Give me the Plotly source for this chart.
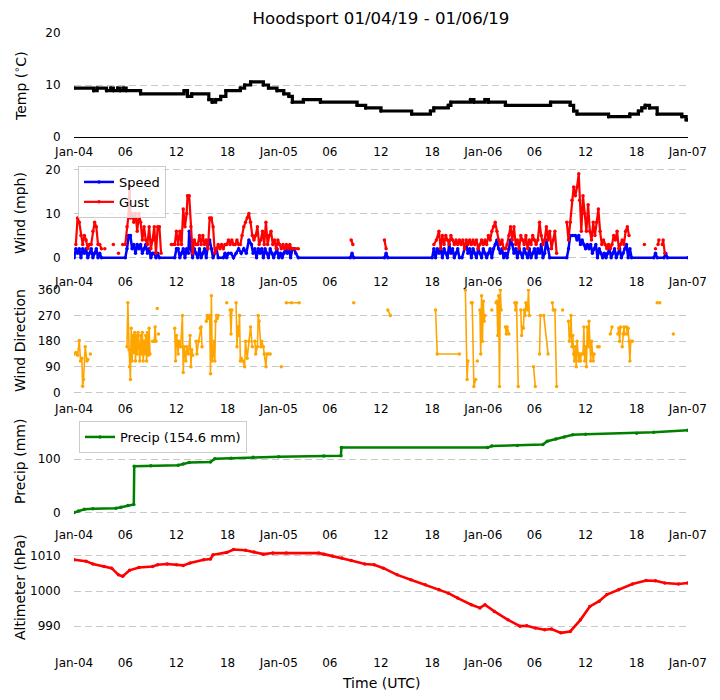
import pandas as pd
import plotly.graph_objects as go

START = pd.Timestamp("2019-01-04 00:00")

# x tick labels every 6 hours
tick_labels = ["Jan-04", "06", "12", "18", "Jan-05", "06", "12", "18",
               "Jan-06", "06", "12", "18", "Jan-07"]

# temperature (step series, hours after start -> deg C)
temp_hours = [0.0, 2.3, 2.7, 3.8, 4.3, 4.6, 5.1, 5.4, 5.8, 6.1, 7.8, 12.9, 13.3, 13.8,
              15.8, 16.2, 16.6, 17.2, 17.8, 19.5, 20.0, 20.7, 22.2, 22.8, 23.8, 24.6,
              25.2, 25.6, 26.9, 28.9, 33.2, 34.2, 36.0, 39.6, 41.8, 42.2, 43.9, 44.2,
              46.5, 46.9, 48.2, 48.6, 50.6, 55.9, 58.2, 58.6, 59.0, 62.7, 65.2, 66.2,
              66.6, 67.0, 67.5, 68.4, 71.3, 71.8, 72.0]
temp_c = [9.4, 8.9, 9.4, 8.9, 9.4, 8.9, 9.4, 8.9, 9.4, 8.9, 8.3, 8.9, 7.8, 8.3,
          7.2, 6.7, 7.2, 7.8, 8.9, 9.4, 10.0, 10.6, 10.0, 9.4, 8.9, 8.3,
          7.8, 6.7, 7.2, 6.7, 6.1, 5.6, 5.0, 4.4, 5.0, 5.6, 6.1, 6.7,
          7.2, 6.7, 7.2, 6.7, 6.1, 6.7, 6.1, 5.0, 4.4, 3.9, 4.4, 5.0,
          5.6, 6.1, 5.6, 4.4, 3.9, 3.3, 3.3]

# wind speed (hour, mph)
speed_pts = [
    (0.0, 0), (0.2, 2), (0.4, 1), (0.6, 2), (0.8, 0), (1.0, 2), (1.2, 1), (1.4, 2), (1.6, 0),
    (1.8, 1), (2.0, 2), (2.2, 0), (2.4, 1), (2.6, 2), (2.8, 0), (3.0, 1), (3.2, 0),
    (6.0, 0), (6.2, 2), (6.4, 5), (6.6, 5), (6.8, 2), (7.0, 3), (7.2, 1), (7.4, 3), (7.6, 2),
    (7.8, 3), (8.0, 1), (8.2, 2), (8.4, 3), (8.6, 1), (8.8, 2), (9.0, 0), (9.2, 1), (9.4, 1),
    (9.6, 0), (9.8, 1), (10.0, 0),
    (11.8, 0), (12.0, 2), (12.2, 2), (12.4, 0), (12.6, 1), (12.8, 2), (13.0, 0), (13.2, 2),
    (13.4, 1), (13.5, 6), (13.7, 2), (13.9, 0), (14.1, 2), (14.3, 1), (14.5, 0), (14.7, 2),
    (14.9, 0), (15.1, 1), (15.3, 2), (15.5, 0), (15.7, 3), (15.9, 4), (16.1, 2), (16.3, 0),
    (16.5, 1), (16.7, 2), (16.9, 0),
    (17.5, 0), (17.7, 1), (17.9, 0), (18.1, 1), (18.4, 1), (18.7, 0), (19.0, 1), (19.3, 2),
    (19.6, 1), (19.9, 2), (20.2, 1), (20.5, 4), (20.8, 3), (21.0, 1), (21.2, 2), (21.4, 0),
    (21.6, 2), (21.8, 1), (22.0, 2), (22.2, 0), (22.4, 2), (22.6, 1), (22.8, 0), (23.0, 2),
    (23.2, 1), (23.4, 0), (23.6, 1), (23.8, 2), (24.0, 0), (24.2, 1), (24.4, 0), (24.6, 1),
    (24.8, 2), (25.0, 1), (25.2, 2), (25.4, 0), (25.6, 2), (25.8, 2), (26.0, 1), (26.3, 0),
    (32.4, 0), (32.6, 1), (32.8, 0), (36.4, 0), (36.6, 1), (36.8, 0),
    (42.0, 0), (42.2, 2), (42.4, 0), (42.6, 2), (42.8, 1), (43.0, 2), (43.2, 0), (43.4, 2),
    (43.6, 1), (43.8, 0), (44.0, 3), (44.2, 1), (44.4, 2), (44.6, 0), (44.8, 1), (45.0, 2),
    (45.2, 0), (45.5, 0), (45.8, 2), (46.0, 3), (46.2, 1), (46.4, 2), (46.6, 0), (46.8, 2),
    (47.0, 1), (47.2, 0), (47.4, 2), (47.6, 1), (47.8, 0), (48.0, 2), (48.2, 1), (48.4, 0),
    (48.6, 1), (48.8, 2), (49.0, 0), (49.2, 2), (49.4, 3), (49.6, 4), (49.8, 2), (50.0, 1),
    (50.2, 2), (50.4, 0), (50.6, 1), (50.8, 0), (51.0, 2), (51.2, 4), (51.4, 3), (51.6, 1),
    (51.8, 2), (52.0, 0), (52.2, 2), (52.4, 1), (52.6, 0), (52.8, 2), (53.0, 1), (53.2, 0),
    (53.4, 2), (53.6, 0), (53.8, 1), (54.0, 2), (54.2, 0), (54.4, 2), (54.6, 1), (54.8, 3),
    (55.0, 0), (55.2, 1), (55.4, 4), (55.6, 2), (55.8, 0),
    (57.8, 0), (58.0, 2), (58.2, 5), (58.5, 5), (58.8, 5), (59.0, 4), (59.2, 5), (59.4, 3),
    (59.6, 4), (59.8, 3), (60.0, 2), (60.2, 3), (60.4, 2), (60.6, 3), (60.8, 1), (61.0, 2),
    (61.2, 3), (61.4, 0), (61.6, 2), (61.8, 1), (62.0, 0), (62.2, 1), (62.4, 0), (62.6, 1),
    (62.8, 2), (63.0, 0), (63.2, 1), (63.4, 2), (63.6, 0), (63.8, 1), (64.0, 2), (64.2, 0),
    (64.4, 1), (64.6, 2), (64.8, 3), (65.0, 0), (65.2, 2), (65.4, 0),
    (68.0, 0), (68.2, 1), (68.4, 0), (69.2, 0), (69.4, 1), (69.6, 0), (72.0, 0),
]

# wind gust (hour, mph); None = no gust reported
gust_pts = [
    (0.2, 3), (0.4, 9), (0.6, 8), (0.8, 5), (1.0, 3), (1.2, 5), (1.4, 4), (1.6, 2), (1.8, 3),
    (2.0, 3), (2.2, 6), (2.4, 8), (2.6, 7), (2.8, 3), (3.0, 3), (3.2, 2), (3.4, None),
    (3.6, 2), (3.7, None), (4.6, 3), (4.7, None), (5.2, 1), (5.3, None), (5.7, 3), (5.8, None),
    (6.0, 3), (6.2, 7), (6.4, 10), (6.5, 16), (6.6, 9), (6.8, 10), (7.0, 8), (7.2, 10),
    (7.4, 6), (7.6, 10), (7.8, 8), (8.0, 4), (8.2, 7), (8.4, 4), (8.6, 3), (8.8, 7), (9.0, 2),
    (9.2, 4), (9.4, 7), (9.6, 1), (9.8, 7), (10.0, 7), (10.2, 1), (10.3, None),
    (11.4, 3), (11.6, 3), (11.8, 3), (12.0, 6), (12.2, 3), (12.4, 6), (12.6, 3), (12.8, 11),
    (13.0, 7), (13.2, 10), (13.3, 14), (13.5, 14), (13.7, 7), (13.9, 1), (14.1, 4), (14.3, 3),
    (14.5, 3), (14.7, 5), (14.9, 3), (15.1, 5), (15.3, 3), (15.5, 4), (15.7, 2), (15.9, 9),
    (16.1, 9), (16.3, 7), (16.5, 1), (16.7, 2), (16.9, 3), (17.1, 2), (17.3, 3), (17.5, 2),
    (17.7, 3), (17.9, 3), (18.1, 4), (18.3, 3), (18.5, 4), (18.7, 3), (18.9, 3), (19.1, 4),
    (19.3, 3), (19.5, 3), (19.7, 5), (19.9, 7), (20.1, 8), (20.3, 9), (20.5, 10), (20.7, 8),
    (20.9, 5), (21.1, 4), (21.3, 5), (21.5, 7), (21.7, 3), (21.9, 4), (22.1, 6), (22.3, 3),
    (22.5, 8), (22.7, 3), (22.9, 5), (23.1, 6), (23.3, 3), (23.5, 4), (23.7, 2), (23.9, 4),
    (24.1, 3), (24.3, 2), (24.5, 3), (24.7, 2), (24.9, 3), (25.1, 2), (25.3, 3), (25.5, 2),
    (25.7, 2), (26.0, 2), (26.3, 2), (26.4, None),
    (32.5, 4), (32.7, 3), (32.8, None), (36.4, 4), (36.6, 2), (36.7, None),
    (42.2, 3), (42.5, 4), (42.8, 6), (43.0, 2), (43.2, 5), (43.4, 3), (43.6, 5), (43.8, 4),
    (44.0, 3), (44.2, 5), (44.4, 4), (44.6, 3), (44.8, 4), (45.0, 3), (45.2, 4), (45.4, 3),
    (45.6, 4), (45.8, 2), (46.0, 4), (46.2, 3), (46.4, 4), (46.6, 3), (46.8, 4), (47.0, 3),
    (47.2, 4), (47.4, 2), (47.6, 3), (47.8, 4), (48.0, 3), (48.2, 4), (48.4, 3), (48.6, 5),
    (48.8, 4), (49.0, 6), (49.2, 7), (49.4, 8), (49.6, 6), (49.8, 4), (50.0, 3), (50.2, 4),
    (50.4, 2), (50.6, 2), (50.8, 3), (51.0, 5), (51.2, 7), (51.4, 4), (51.6, 7), (51.8, 3),
    (52.0, 4), (52.2, 2), (52.4, 5), (52.6, 4), (52.8, 3), (53.0, 5), (53.2, 2), (53.4, 4),
    (53.6, 3), (53.8, 5), (54.0, 4), (54.2, 3), (54.4, 4), (54.6, 8), (54.8, 5), (55.0, 3),
    (55.2, 4), (55.4, 7), (55.6, 4), (55.8, 6), (56.0, 2), (56.2, 4), (56.4, 6), (56.6, 1),
    (56.7, None),
    (57.8, 8), (58.0, 4), (58.2, 8), (58.4, 13), (58.6, 16), (58.8, 14), (59.0, 16), (59.2, 19),
    (59.3, 13), (59.5, 6), (59.7, 14), (59.9, 10), (60.1, 6), (60.3, 12), (60.5, 6), (60.7, 4),
    (60.9, 8), (61.1, 5), (61.3, 8), (61.5, 11), (61.7, 6), (61.9, 3), (62.1, 4), (62.3, 3),
    (62.5, 2), (62.7, 3), (62.9, 2), (63.1, 3), (63.3, 5), (63.5, 4), (63.7, 6), (63.9, 2),
    (64.1, 3), (64.3, 4), (64.5, 3), (64.7, 6), (64.9, 7), (65.1, 5), (65.3, None),
    (66.9, 3), (67.0, None), (68.2, 2), (68.3, None), (68.5, 3), (68.6, 4), (68.7, None),
    (69.0, 3), (69.1, 4), (69.3, 1), (69.4, None),
]

# wind direction (hour, degrees); None = calm / missing
dir_pts = [
    (0.0, 135), (0.2, 140), (0.4, 130), (0.6, 182), (0.75, 110), (0.9, 120), (1.0, 21),
    (1.1, 45), (1.3, 160), (1.5, 110), (1.6, 115), (1.7, None), (1.9, 135), (2.0, None),
    (6.2, 160), (6.3, 315), (6.45, 150), (6.5, 90), (6.6, 45), (6.7, 225), (6.8, 110),
    (6.9, 200), (7.0, 140), (7.1, 210), (7.2, 110), (7.3, 200), (7.4, 135), (7.5, 210),
    (7.6, 160), (7.7, 110), (7.8, 200), (7.9, 135), (8.0, 210), (8.1, 110), (8.2, 180),
    (8.3, 135), (8.4, 200), (8.5, 110), (8.6, 210), (8.7, 130), (8.8, 225), (8.9, 135),
    (9.0, None), (9.2, 180), (9.4, 180), (9.5, 230), (9.6, 180), (9.7, None), (9.75, 295),
    (9.8, None), (9.9, 205), (10.0, None),
    (11.8, 225), (11.9, 110), (12.0, 200), (12.1, 180), (12.2, 135), (12.3, 180), (12.5, 160),
    (12.7, 270), (12.8, 70), (12.9, 160), (13.0, 135), (13.1, 110), (13.2, 160), (13.4, 135),
    (13.6, 200), (13.7, 90), (13.8, 150), (13.9, 130), (14.0, None), (14.3, 180), (14.4, 135),
    (14.6, 180), (14.8, 225), (14.9, 230), (15.0, 160), (15.1, None),
    (15.5, 250), (15.6, 270), (15.7, 260), (15.9, 270), (16.0, 65), (16.1, 340), (16.2, 110),
    (16.3, 130), (16.4, 180), (16.5, 110), (16.6, 250), (16.7, 270), (16.8, 260), (16.9, 270),
    (17.0, None),
    (17.9, 315), (18.0, None), (18.3, 290), (18.4, 205), (18.5, 290), (18.6, None),
    (19.0, 315), (19.1, 160), (19.2, 230), (19.3, 200), (19.4, 270), (19.5, 110), (19.6, 120),
    (19.8, 110), (20.0, 90), (20.1, 180), (20.3, 120), (20.5, 180), (20.7, 230), (20.9, 160),
    (21.0, None), (21.2, 180), (21.3, 135), (21.5, 160), (21.6, 270), (21.7, 250), (21.9, 160),
    (22.0, 180), (22.2, 160), (22.3, 135), (22.5, 90), (22.6, 135), (22.8, 135), (23.0, 135),
    (23.2, None), (24.3, 90), (24.4, None),
    (24.9, 315), (25.5, 315), (26.4, 315), (26.5, None),
    (32.8, 315), (32.9, None), (36.8, 290), (37.1, 270), (37.2, None),
    (42.4, 290), (42.6, 135), (45.2, 135), (45.3, None),
    (45.9, 360), (46.1, 45), (46.2, 110), (46.3, None), (46.6, 315), (46.7, 315), (46.9, 20),
    (47.1, 45), (47.2, None), (47.3, 110), (47.4, None),
    (47.6, 290), (47.7, 135), (47.8, 340), (47.9, 180), (48.0, 320), (48.1, 250), (48.2, 270),
    (48.3, None), (49.0, 290), (49.1, None),
    (49.5, 315), (49.6, 320), (49.7, 200), (49.8, 340), (49.9, 20), (50.0, 360), (50.1, 290),
    (50.2, None), (50.6, 230), (50.7, 205), (50.8, 230), (51.0, 205), (51.1, None),
    (51.7, 315), (51.8, 290), (51.9, 315), (52.1, 20), (52.2, None),
    (52.4, 290), (52.5, 200), (52.6, 230), (52.7, 225), (52.8, 290), (52.9, 270), (53.0, 315),
    (53.2, 290), (53.3, 360), (53.4, 270), (53.5, None),
    (53.9, 90), (54.1, 20), (54.2, None), (54.6, 135), (54.7, 270), (54.8, None),
    (55.1, 270), (55.6, 135), (55.7, None), (56.1, 315), (56.2, 290), (56.4, 290), (56.6, 20),
    (56.7, None), (57.3, 290), (57.4, None),
    (58.0, 250), (58.1, 180), (58.2, 200), (58.3, 270), (58.4, 160), (58.5, 200), (58.6, 135),
    (58.7, 110), (58.8, 160), (58.9, 90), (59.0, 180), (59.1, 135), (59.2, 110), (59.3, 135),
    (59.4, 110), (59.5, 135), (59.6, None), (59.7, 135), (59.8, 230), (59.9, 110), (60.0, 160),
    (60.1, 90), (60.2, 230), (60.3, 160), (60.4, 250), (60.5, 180), (60.6, 110), (60.7, 180),
    (60.8, 135), (60.9, 110), (61.0, 135), (61.1, None), (61.4, 160), (61.6, 160), (61.7, None),
    (62.9, 205), (63.1, 230), (63.2, None),
    (63.8, 205), (63.9, 225), (64.0, 180), (64.1, 230), (64.2, None), (64.3, 160), (64.4, 205),
    (64.5, 230), (64.6, 205), (64.7, None), (64.8, 230), (64.9, 205), (65.0, 225), (65.1, 180),
    (65.2, 110), (65.3, 180), (65.5, 180), (65.6, None),
    (68.4, 315), (68.5, None), (68.7, 315), (68.8, None), (70.3, 205), (70.4, None),
]

# accumulated precipitation (hour, mm)
precip_pts = [
    (0.0, 0), (0.5, 3), (1.2, 6), (2.2, 7), (4.9, 8), (5.5, 10), (6.3, 13), (7.0, 15),
    (7.05, 87), (9.0, 88), (12.2, 89), (12.8, 91), (13.5, 94), (16.0, 95), (16.5, 101),
    (18.4, 102), (21.0, 104), (24.0, 105), (29.3, 106), (31.3, 106.5), (31.35, 122),
    (48.5, 122), (49.0, 125), (52.0, 126), (55.0, 128), (55.5, 134), (56.5, 138), (57.5, 142),
    (58.5, 146), (60.0, 147), (66.0, 149), (68.0, 151), (72.0, 154.6),
]
precip_total = 154.6

# altimeter setting (hour, hPa)
alt_pts = [
    (0.0, 1008.9), (1.4, 1008.5), (2.2, 1007.7), (3.5, 1007.0), (4.4, 1006.5), (5.2, 1004.6),
    (5.7, 1004.2), (6.5, 1005.9), (7.6, 1006.7), (9.2, 1007.0), (9.8, 1007.5), (10.9, 1007.7),
    (12.0, 1007.5), (12.8, 1007.3), (13.6, 1008.0), (15.2, 1008.9), (16.0, 1009.1),
    (16.3, 1010.3), (17.9, 1011.0), (18.7, 1011.8), (20.1, 1011.6), (21.1, 1011.1),
    (22.2, 1010.5), (23.3, 1010.8), (24.9, 1010.8), (28.7, 1010.8), (29.3, 1010.5),
    (30.3, 1010.0), (31.4, 1009.4), (32.5, 1008.7), (34.1, 1007.7), (35.2, 1007.5),
    (36.3, 1006.5), (37.9, 1004.6), (39.5, 1003.2), (41.2, 1001.8), (42.8, 1000.4),
    (43.9, 999.4), (45.0, 998.0), (46.6, 996.1), (47.6, 995.2), (48.2, 996.1), (49.3, 994.2),
    (50.9, 991.8), (52.3, 990.0), (53.1, 990.1), (54.1, 989.5), (55.2, 989.0), (56.0, 989.2),
    (57.1, 988.1), (58.2, 988.5), (59.4, 991.8), (60.5, 995.6), (61.6, 997.1), (62.5, 999.0),
    (63.9, 1000.4), (65.5, 1002.0), (67.1, 1003.0), (68.2, 1002.9), (69.3, 1002.3),
    (70.9, 1002.0), (72.0, 1002.3),
]


def to_time(hours):
    return [START + pd.Timedelta(hours=h) for h in hours]


def split(pts):
    return to_time([p[0] for p in pts]), [p[1] for p in pts]


FIG_W, FIG_H = 720, 700
MARGIN_L, MARGIN_R = 74, 32
FONT = "DejaVu Sans"


def ydom(top, bottom):
    return [(FIG_H - bottom) / FIG_H, (FIG_H - top) / FIG_H]


def xpaper(px):
    return (px - MARGIN_L) / (FIG_W - MARGIN_L - MARGIN_R)


# panel pixel boxes (top, bottom), y ranges, y ticks, y titles and title centre
panels = [
    dict(box=(33, 137), rng=[0, 20], ticks=[0, 10, 20], title="Temp (<sup>∘</sup>C)", ty=86),
    dict(box=(164, 268), rng=[-2.33, 21.2], ticks=[0, 10, 20], title="Wind (mph)", ty=213),
    dict(box=(289, 395), rng=[-9.5, 363.5], ticks=[0, 90, 180, 270, 360],
         title="Wind Direction", ty=341),
    dict(box=(417, 521), rng=[-16, 179.5], ticks=[0, 100], title="Precip (mm)", ty=462),
    dict(box=(545, 649), rng=[983.5, 1013.1], ticks=[990, 1000, 1010],
         title="Altimeter (hPa)", ty=587),
]

fig = go.Figure()


def line(x, y, color, width, row, name=None, legend=None, shape="linear"):
    fig.add_trace(go.Scatter(
        x=x, y=y, mode="lines+markers", name=name,
        line=dict(color=color, width=width, shape=shape),
        marker=dict(color=color, size=3.5),
        xaxis="x" if row == 1 else f"x{row}", yaxis="y" if row == 1 else f"y{row}",
        showlegend=legend is not None, legend=legend or "legend",
        connectgaps=False,
    ))


line(to_time(temp_hours), temp_c, "black", 3.2, 1, shape="hv")
sx, sy = split(speed_pts)
line(sx, sy, "blue", 2.5, 2, name="Speed", legend="legend")
gx, gy = split(gust_pts)
line(gx, gy, "red", 2.2, 2, name="Gust", legend="legend")
dx, dy = split(dir_pts)
line(dx, dy, "orange", 1.6, 3)
px_, py_ = split(precip_pts)
line(px_, py_, "green", 2.5, 4, name=f"Precip ({precip_total} mm)", legend="legend2")
ax, ay = split(alt_pts)
line(ax, ay, "red", 2.6, 5)

tick_vals = pd.date_range(START, periods=len(tick_labels), freq="6h")
x_range = [START - pd.Timedelta(minutes=1), tick_vals[-1] + pd.Timedelta(minutes=1)]

layout = {}
for i, p in enumerate(panels, start=1):
    sfx = "" if i == 1 else str(i)
    layout[f"xaxis{sfx}"] = dict(
        domain=[0, 1], anchor=f"y{sfx}", type="date", range=x_range, automargin=False,
        tickvals=list(tick_vals), ticktext=tick_labels, tickfont=dict(size=12),
        showgrid=False, zeroline=False, ticks="outside", ticklen=3,
        tickcolor="rgba(0,0,0,0)",
        showline=(i == 1), linecolor="black", linewidth=1.2,
    )
    layout[f"yaxis{sfx}"] = dict(
        domain=ydom(*p["box"]), anchor=f"x{sfx}", range=p["rng"], tickvals=p["ticks"],
        automargin=False, tickfont=dict(size=12), showgrid=True, gridcolor="#c8c8c8",
        gridwidth=1, griddash="7px,4px", zeroline=False, ticks="outside", ticklen=10,
        tickcolor="rgba(0,0,0,0)", showline=False,
    )

annotations = []
for p in panels:
    annotations.append(dict(
        text=p["title"], xref="paper", yref="paper", x=xpaper(20),
        y=(FIG_H - p["ty"]) / FIG_H, xanchor="center", yanchor="middle",
        textangle=-90, showarrow=False, font=dict(size=14, family=FONT),
    ))
annotations.append(dict(
    text="Time (UTC)", xref="paper", yref="paper", x=0.5, y=(FIG_H - 683) / FIG_H,
    xanchor="center", yanchor="middle", showarrow=False, font=dict(size=14, family=FONT),
))

fig.update_layout(
    **layout,
    annotations=annotations,
    width=FIG_W, height=FIG_H,
    margin=dict(l=MARGIN_L, r=MARGIN_R, t=0, b=0, autoexpand=False),
    plot_bgcolor="white", paper_bgcolor="white",
    font=dict(family=FONT, size=12, color="black"),
    title=dict(text="Hoodsport 01/04/19 - 01/06/19", x=0.5, xref="paper", xanchor="center",
               y=(FIG_H - 18) / FIG_H, yref="container", yanchor="middle",
               font=dict(size=16.6)),
    legend=dict(x=xpaper(78), y=(FIG_H - 166) / FIG_H, xanchor="left",
                yanchor="top", bordercolor="#cccccc", borderwidth=1,
                bgcolor="rgba(255,255,255,0.8)", font=dict(size=13), itemwidth=30,
                tracegroupgap=0),
    legend2=dict(x=xpaper(79), y=(FIG_H - 421) / FIG_H, xanchor="left",
                 yanchor="top", bordercolor="#cccccc", borderwidth=1,
                 bgcolor="rgba(255,255,255,0.8)", font=dict(size=13), itemwidth=30),
)

# drop the page's default body margin so the figure sits at the window's corner
fig.write_html("out.html", config={"displayModeBar": False},
               post_script="document.body.style.margin = '0px';")
